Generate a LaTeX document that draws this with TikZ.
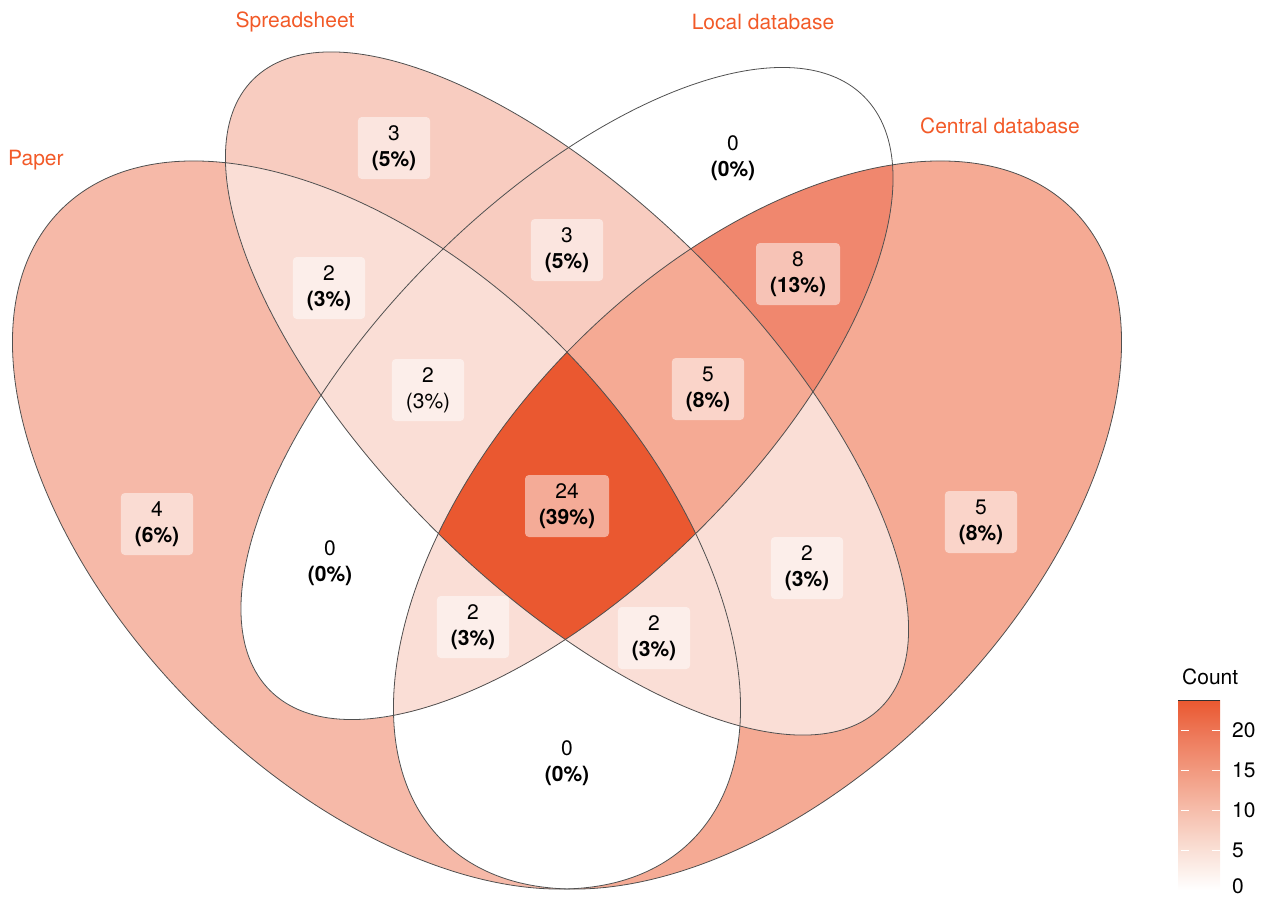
\documentclass[tikz,border=0pt]{standalone}
\usepackage{fontspec}
\setmainfont{TeX Gyre Heros}
\definecolor{cA}{HTML}{EA5830}
\definecolor{ceight}{HTML}{F0876E}
\definecolor{cfive}{HTML}{F5AA94}
\definecolor{cfour}{HTML}{F6B9A8}
\definecolor{cthree}{HTML}{F8CCC0}
\definecolor{ctwo}{HTML}{FADED6}
\definecolor{cbfive}{HTML}{FAE0D6}
\definecolor{cbten}{HTML}{F6BEAC}
\definecolor{cbfifteen}{HTML}{F29A80}
\definecolor{cbtwenty}{HTML}{ED7656}
\definecolor{setc}{RGB}{242,90,40}
\definecolor{edgec}{RGB}{80,80,80}
\pgfdeclareverticalshading{countbar}{100bp}{color(0bp)=(white); color(25bp)=(white); color(35.42bp)=(cbfive); color(45.83bp)=(cbten); color(56.25bp)=(cbfifteen); color(66.67bp)=(cbtwenty); color(75bp)=(cA); color(100bp)=(cA)}
\def\pathP{(376.5,525) ellipse [x radius=446pt, y radius=257pt]}
\def\pathS{(567,393.5) ellipse [x radius=444pt, y radius=190pt]}
\def\pathL{(567,393.5) ellipse [x radius=420pt, y radius=190pt]}
\def\pathC{(757.5,525) ellipse [x radius=446pt, y radius=257pt]}
\tikzset{
  rotP/.style={rotate around={-45:(376.5,525)}},
  rotS/.style={rotate around={-45:(567,393.5)}},
  rotL/.style={rotate around={45:(567,393.5)}},
  rotC/.style={rotate around={45:(757.5,525)}},
  lab/.style={fill=white, fill opacity=0.5, text opacity=1, rounded corners=4pt, align=center, inner xsep=14pt, inner ysep=4pt, minimum height=62pt, font=\fontsize{21}{26}\selectfont},
  setname/.style={text=setc, font=\fontsize{21}{26}\selectfont, inner sep=0pt},
  legtext/.style={font=\fontsize{21}{26}\selectfont, inner sep=0pt},
  bartick/.style={white, line width=1pt},
}
\begin{document}
\begin{tikzpicture}[x=1pt,y=-1pt]
\useasboundingbox (0,0) rectangle (1265,897);
% single sets
\fill[cfour, rotP] \pathP;
\fill[cthree, rotS] \pathS;
\fill[white, rotL] \pathL;
\fill[cfive, rotC] \pathC;
% pairs
\begin{scope}\clip[rotP] \pathP; \fill[ctwo, rotS] \pathS; \end{scope}
\begin{scope}\clip[rotP] \pathP; \fill[white, rotL] \pathL; \end{scope}
\begin{scope}\clip[rotP] \pathP; \fill[white, rotC] \pathC; \end{scope}
\begin{scope}\clip[rotS] \pathS; \fill[cthree, rotL] \pathL; \end{scope}
\begin{scope}\clip[rotS] \pathS; \fill[ctwo, rotC] \pathC; \end{scope}
\begin{scope}\clip[rotL] \pathL; \fill[ceight, rotC] \pathC; \end{scope}
% triples
\begin{scope}\clip[rotP] \pathP; \clip[rotS] \pathS; \fill[ctwo, rotL] \pathL; \end{scope}
\begin{scope}\clip[rotP] \pathP; \clip[rotS] \pathS; \fill[ctwo, rotC] \pathC; \end{scope}
\begin{scope}\clip[rotP] \pathP; \clip[rotL] \pathL; \fill[ctwo, rotC] \pathC; \end{scope}
\begin{scope}\clip[rotS] \pathS; \clip[rotL] \pathL; \fill[cfive, rotC] \pathC; \end{scope}
% all four
\begin{scope}\clip[rotP] \pathP; \clip[rotS] \pathS; \clip[rotL] \pathL; \fill[cA, rotC] \pathC; \end{scope}
% outlines
\draw[edgec, line width=0.8pt, rotP] \pathP;
\draw[edgec, line width=0.8pt, rotS] \pathS;
\draw[edgec, line width=0.8pt, rotL] \pathL;
\draw[edgec, line width=0.8pt, rotC] \pathC;
% set names
\node[setname, anchor=west] (nP) at (8,160) {Paper};
\node[setname] (nS) at (295,22) {Spreadsheet};
\node[setname] (nL) at (763,22) {Local database};
\node[setname] (nC) at (1000,126) {Central database};
% region labels
\node[lab] (rS) at (394,148) {3\\\textbf{(5\%)}};
\node[lab] (rL) at (733,158) {0\\\textbf{(0\%)}};
\node[lab] (rPS) at (329,288) {2\\\textbf{(3\%)}};
\node[lab] (rSL) at (567,250) {3\\\textbf{(5\%)}};
\node[lab] (rLC) at (798,274) {8\\\textbf{(13\%)}};
\node[lab] (rPSL) at (428,390) {2\\(3\%)};
\node[lab] (rSLC) at (708,389) {5\\\textbf{(8\%)}};
\node[lab] (rAll) at (567,506) {24\\\textbf{(39\%)}};
\node[lab] (rP) at (157,524) {4\\\textbf{(6\%)}};
\node[lab] (rC) at (981,522) {5\\\textbf{(8\%)}};
\node[lab] (rPL) at (330,563) {0\\\textbf{(0\%)}};
\node[lab] (rSC) at (807,568) {2\\\textbf{(3\%)}};
\node[lab] (rPLC) at (473,627) {2\\\textbf{(3\%)}};
\node[lab] (rPSC) at (654,638) {2\\\textbf{(3\%)}};
\node[lab] (rPC) at (567,763) {0\\\textbf{(0\%)}};
% legend
\node[legtext, anchor=west] (legT) at (1182,677) {Count};
\shade[shading=countbar] (1178,890) rectangle (1220,700);
\draw[edgec!60!black, line width=1pt] (1178,700) -- (1220,700);
\foreach \v/\yy in {5/850,10/810,15/770,20/730}{
  \draw[bartick] (1181,\yy) -- (1189,\yy);
  \draw[bartick] (1212,\yy) -- (1220,\yy);
  \node[legtext, anchor=west] (leg\v) at (1232,\yy) {\v};
}
\node[legtext, anchor=west] (leg0) at (1232,886) {0};
\end{tikzpicture}
\end{document}
